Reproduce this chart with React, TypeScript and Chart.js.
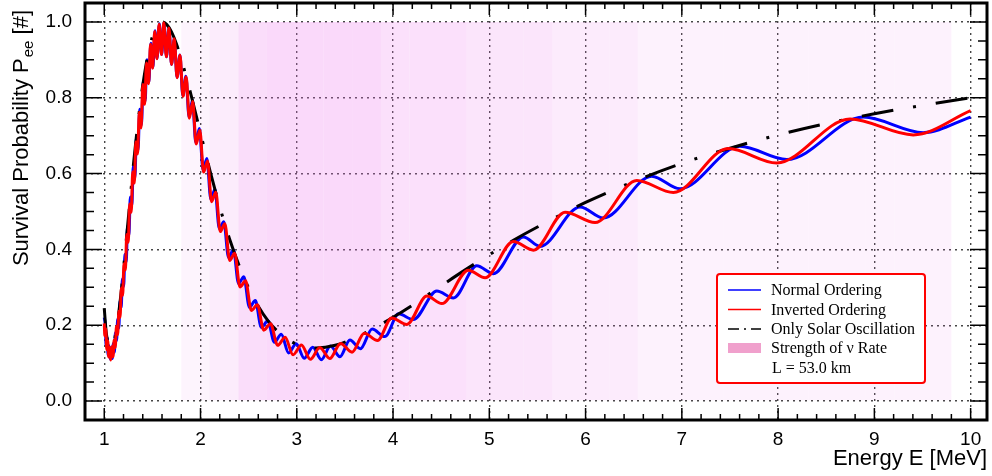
import React, { useEffect, useRef } from "react";
import { Chart, registerables } from "chart.js";

Chart.register(...registerables);

// ---------------- data ----------------
const energyTicks = [1, 2, 3, 4, 5, 6, 7, 8, 9, 10];
const probTicks = [0.0, 0.2, 0.4, 0.6, 0.8, 1.0];

// Only solar oscillation (black dash-dot)
const solarE = [1.0, 1.02, 1.04, 1.06, 1.07, 1.08, 1.1, 1.125, 1.15, 1.175, 1.2, 1.225, 1.25, 1.275, 1.3, 1.325, 1.35, 1.375, 1.4, 1.45, 1.5, 1.55, 1.6, 1.65, 1.7, 1.75, 1.8, 1.85, 1.9, 1.95, 2.0, 2.1, 2.2, 2.3, 2.4, 2.5, 2.6, 2.7, 2.8, 2.9, 3.0, 3.2, 3.4, 3.6, 3.8, 4.0, 4.25, 4.5, 4.75, 5.0, 5.25, 5.5, 6.0, 6.5, 7.0, 7.5, 8.0, 8.5, 9.0, 9.5, 10.0];
const solarP = [0.245, 0.182, 0.155, 0.141, 0.14, 0.142, 0.156, 0.187, 0.232, 0.286, 0.349, 0.415, 0.482, 0.549, 0.616, 0.677, 0.734, 0.787, 0.833, 0.909, 0.961, 0.99, 1.0, 0.993, 0.973, 0.942, 0.902, 0.857, 0.809, 0.758, 0.707, 0.606, 0.512, 0.429, 0.358, 0.298, 0.25, 0.212, 0.184, 0.164, 0.15, 0.14, 0.147, 0.166, 0.192, 0.221, 0.261, 0.304, 0.346, 0.386, 0.424, 0.459, 0.524, 0.579, 0.627, 0.667, 0.702, 0.732, 0.758, 0.78, 0.8];

// Normal ordering (blue)
const normalE = [1.0, 1.01, 1.02, 1.03, 1.0406, 1.051, 1.062, 1.073, 1.0834, 1.094, 1.105, 1.1163, 1.128, 1.1394, 1.151, 1.1635, 1.176, 1.1885, 1.2015, 1.2147, 1.228, 1.242, 1.256, 1.271, 1.2865, 1.302, 1.318, 1.334, 1.351, 1.368, 1.386, 1.405, 1.424, 1.443, 1.463, 1.484, 1.505, 1.527, 1.549, 1.5725, 1.596, 1.621, 1.646, 1.672, 1.699, 1.727, 1.756, 1.786, 1.816, 1.848, 1.881, 1.916, 1.951, 1.988, 2.027, 2.066, 2.107, 2.15, 2.195, 2.242, 2.291, 2.342, 2.395, 2.45, 2.508, 2.569, 2.632, 2.699, 2.767, 2.839, 2.915, 2.994, 3.077, 3.166, 3.255, 3.35, 3.448, 3.552, 3.661, 3.783, 3.914, 4.058, 4.21, 4.455, 4.627, 4.87, 5.043, 5.354, 5.527, 5.943, 6.185, 6.687, 6.981, 7.604, 8.09, 8.885, 9.508, 10.0];
const normalP = [0.22, 0.203, 0.145, 0.167, 0.121, 0.146, 0.11, 0.141, 0.112, 0.152, 0.129, 0.18, 0.16, 0.216, 0.192, 0.264, 0.247, 0.322, 0.302, 0.387, 0.367, 0.461, 0.437, 0.538, 0.515, 0.621, 0.588, 0.696, 0.662, 0.77, 0.728, 0.843, 0.79, 0.9, 0.841, 0.944, 0.88, 0.977, 0.904, 0.995, 0.914, 0.998, 0.908, 0.984, 0.888, 0.956, 0.854, 0.913, 0.806, 0.857, 0.749, 0.794, 0.682, 0.719, 0.609, 0.64, 0.532, 0.559, 0.455, 0.473, 0.379, 0.399, 0.31, 0.328, 0.247, 0.265, 0.194, 0.212, 0.155, 0.176, 0.127, 0.151, 0.113, 0.142, 0.109, 0.145, 0.117, 0.161, 0.138, 0.19, 0.17, 0.23, 0.215, 0.29, 0.272, 0.357, 0.336, 0.433, 0.408, 0.512, 0.483, 0.593, 0.56, 0.672, 0.637, 0.749, 0.708, 0.749];

// Inverted ordering (red)
const invertedE = [1.0, 1.006, 1.016, 1.026, 1.036, 1.047, 1.058, 1.068, 1.08, 1.091, 1.103, 1.114, 1.127, 1.139, 1.152, 1.164, 1.178, 1.191, 1.205, 1.219, 1.234, 1.249, 1.264, 1.28, 1.296, 1.312, 1.329, 1.346, 1.364, 1.382, 1.401, 1.42, 1.439, 1.46, 1.481, 1.502, 1.524, 1.547, 1.57, 1.594, 1.619, 1.645, 1.672, 1.699, 1.727, 1.757, 1.787, 1.818, 1.851, 1.884, 1.919, 1.955, 1.993, 2.032, 2.073, 2.115, 2.159, 2.205, 2.253, 2.303, 2.355, 2.41, 2.468, 2.528, 2.591, 2.657, 2.727, 2.801, 2.879, 2.961, 3.048, 3.141, 3.239, 3.343, 3.455, 3.574, 3.701, 3.839, 3.986, 4.143, 4.351, 4.507, 4.783, 4.956, 5.25, 5.458, 5.787, 6.098, 6.532, 6.912, 7.483, 7.985, 8.747, 9.404, 10.0];
const invertedP = [0.205, 0.172, 0.191, 0.136, 0.159, 0.116, 0.141, 0.108, 0.144, 0.117, 0.161, 0.141, 0.197, 0.175, 0.237, 0.221, 0.298, 0.279, 0.362, 0.346, 0.439, 0.419, 0.52, 0.498, 0.605, 0.575, 0.684, 0.652, 0.762, 0.72, 0.835, 0.783, 0.892, 0.837, 0.941, 0.878, 0.975, 0.903, 0.994, 0.914, 0.998, 0.908, 0.984, 0.888, 0.956, 0.853, 0.912, 0.804, 0.855, 0.746, 0.79, 0.678, 0.714, 0.604, 0.633, 0.526, 0.551, 0.447, 0.468, 0.371, 0.39, 0.301, 0.317, 0.239, 0.254, 0.187, 0.204, 0.147, 0.168, 0.122, 0.148, 0.11, 0.141, 0.112, 0.152, 0.129, 0.179, 0.16, 0.219, 0.202, 0.277, 0.257, 0.345, 0.325, 0.421, 0.398, 0.498, 0.471, 0.582, 0.55, 0.666, 0.628, 0.744, 0.702, 0.766];

// Strength of neutrino rate (background bands), bins of the energy axis
const rateBinCenters = [1.948, 2.244, 2.541, 2.837, 3.133, 3.43, 3.726, 4.022, 4.319, 4.615, 4.911, 5.207, 5.504, 5.8, 6.096, 6.393, 6.689, 6.985, 7.281, 7.578, 7.874, 8.17, 8.467, 8.763, 9.059, 9.356, 9.652];
const rateStrength = [0.1, 0.35, 0.85, 1.0, 1.0, 1.0, 1.0, 0.75, 0.75, 0.75, 0.6, 0.6, 0.6, 0.4, 0.4, 0.4, 0.15, 0.15, 0.15, 0.15, 0.15, 0.15, 0.15, 0.15, 0.15, 0.15, 0.15];

const legendLabels = ["Normal Ordering", "Inverted Ordering", "Only Solar Oscillation", "Strength of \u03BD Rate", "L = 53.0 km"];
const xTitle = "Energy E [MeV]";
const yTitleMain = "Survival Probability P";
const yTitleSub = "ee";
const yTitleTail = " [#]";

const SANS = "'Liberation Sans', Arial, Helvetica, sans-serif";
const SERIF = "'Liberation Serif', 'Times New Roman', serif";

const zeroPadding = (s: any) => {
  s.paddingTop = 0;
  s.paddingBottom = 0;
  s.paddingLeft = 0;
  s.paddingRight = 0;
};

const decorPlugin = {
  id: "decor",
  afterDraw(chart: any) {
    const ctx = chart.ctx as CanvasRenderingContext2D;
    const area = chart.chartArea;
    const xs = chart.scales.x;
    const ys = chart.scales.y;
    ctx.save();
    // inner ticks
    ctx.strokeStyle = "#000";
    ctx.lineWidth = 1.5;
    ctx.beginPath();
    for (let k = 0; k <= 47; k++) {
      const v = 0.8 + k * 0.2;
      if (v > 10.18) break;
      const px = xs.getPixelForValue(v);
      const major = Math.abs(v - Math.round(v)) < 1e-6;
      const len = major ? 12 : 6;
      ctx.moveTo(px, area.bottom);
      ctx.lineTo(px, area.bottom - len);
      ctx.moveTo(px, area.top);
      ctx.lineTo(px, area.top + len);
    }
    for (let k = -1; k <= 21; k++) {
      const v = k * 0.05;
      const py = ys.getPixelForValue(v);
      const major = k % 4 === 0;
      const len = major ? 17 : 9;
      ctx.moveTo(area.left, py);
      ctx.lineTo(area.left + len, py);
      ctx.moveTo(area.right, py);
      ctx.lineTo(area.right - len, py);
    }
    ctx.stroke();
    // frame
    ctx.lineWidth = 3;
    ctx.strokeRect(area.left, area.top, area.right - area.left, area.bottom - area.top);

    // y title with subscript
    ctx.fillStyle = "#000";
    ctx.textBaseline = "alphabetic";
    ctx.textAlign = "left";
    const mainFont = "22px " + SANS;
    const subFont = "15px " + SANS;
    ctx.font = mainFont;
    const w1 = ctx.measureText(yTitleMain).width;
    const w3 = ctx.measureText(yTitleTail).width;
    ctx.font = subFont;
    const w2 = ctx.measureText(yTitleSub).width;
    const total = w1 + w2 + 1 + w3;
    ctx.translate(28, area.top + 7 + total);
    ctx.rotate(-Math.PI / 2);
    ctx.font = mainFont;
    ctx.fillText(yTitleMain, 0, 0);
    ctx.font = subFont;
    ctx.fillText(yTitleSub, w1 + 1, 5);
    ctx.font = mainFont;
    ctx.fillText(yTitleTail, w1 + w2 + 1, 0);
    ctx.restore();

    // legend
    ctx.save();
    const lx = 717, ly = 274, lw = 208, lh = 109;
    ctx.fillStyle = "#fff";
    ctx.strokeStyle = "#ff0000";
    ctx.lineWidth = 2;
    ctx.beginPath();
    (ctx as any).roundRect(lx, ly, lw, lh, 3);
    ctx.fill();
    ctx.stroke();
    const rows = [290, 309.5, 329, 348, 368];
    const sx0 = 728, sx1 = 761, tx = 771;
    ctx.lineWidth = 1.3;
    ctx.strokeStyle = "#0000ff";
    ctx.beginPath(); ctx.moveTo(sx0, rows[0]); ctx.lineTo(sx1, rows[0]); ctx.stroke();
    ctx.strokeStyle = "#ff0000";
    ctx.beginPath(); ctx.moveTo(sx0, rows[1]); ctx.lineTo(sx1, rows[1]); ctx.stroke();
    ctx.strokeStyle = "#000";
    ctx.setLineDash([11, 5, 2, 5]);
    ctx.beginPath(); ctx.moveTo(sx0, rows[2]); ctx.lineTo(sx1, rows[2]); ctx.stroke();
    ctx.setLineDash([]);
    ctx.fillStyle = "#f0a0cc";
    ctx.fillRect(sx0, rows[3] - 5, sx1 - sx0, 10);
    ctx.fillStyle = "#000";
    ctx.font = "16px " + SERIF;
    ctx.textBaseline = "middle";
    ctx.textAlign = "left";
    for (let i = 0; i < legendLabels.length; i++) {
      ctx.fillText(legendLabels[i], i === 4 ? tx + 1 : tx, rows[i] + 1);
    }
    ctx.restore();
  },
};

export default function App() {
  const ref = useRef<HTMLCanvasElement | null>(null);
  useEffect(() => {
    if (!ref.current) return;
    Chart.defaults.font.family = SANS;
    const toXY = (xs: number[], ys: number[]) => xs.map((x, i) => ({ x, y: ys[i] }));
    const chart = new Chart(ref.current, {
      type: "line",
      data: {
        datasets: [
          {
            type: "line",
            label: legendLabels[1],
            data: toXY(invertedE, invertedP),
            borderColor: "#ff0000",
            borderWidth: 3,
            pointRadius: 0,
            cubicInterpolationMode: "monotone",
            order: 0,
          } as any,
          {
            type: "line",
            label: legendLabels[2],
            data: toXY(solarE, solarP),
            borderColor: "#000000",
            borderWidth: 3,
            borderDash: [32, 20, 3, 20],
            pointRadius: 0,
            cubicInterpolationMode: "monotone",
            order: 1,
          } as any,
          {
            type: "line",
            label: legendLabels[0],
            data: toXY(normalE, normalP),
            borderColor: "#0000ff",
            borderWidth: 3,
            pointRadius: 0,
            cubicInterpolationMode: "monotone",
            order: 2,
          } as any,
          {
            type: "bar",
            label: legendLabels[3],
            data: rateBinCenters.map((c) => ({ x: c, y: [0, 1] })),
            backgroundColor: rateStrength.map((s) => `rgba(235,110,235,${(0.06 + 0.2 * s).toFixed(3)})`),
            borderWidth: 0,
            inflateAmount: 0,
            barPercentage: 1,
            categoryPercentage: 1,
            grouped: false,
            order: 3,
          } as any,
        ],
      },
      options: {
        animation: false,
        responsive: true,
        maintainAspectRatio: false,
        events: [],
        layout: { autoPadding: false, padding: { left: 0, right: 5, top: 3, bottom: 0 } },
        plugins: { legend: { display: false }, tooltip: { enabled: false } },
        scales: {
          x: {
            type: "linear",
            min: 0.8,
            max: 10.17,
            offset: false,
            afterBuildTicks: (s: any) => {
              s.ticks = energyTicks.map((v) => ({ value: v }));
            },
            afterFit: (s: any) => {
              s.height = 56;
              zeroPadding(s);
            },
            ticks: {
              autoSkip: false,
              maxRotation: 0,
              padding: 8,
              color: "#000",
              font: { size: 19, family: SANS },
              callback: (v: any) => String(v),
            },
            grid: { drawTicks: false, color: "rgba(50,50,50,0.9)", lineWidth: 1.4, offset: false },
            border: { display: false, dash: [2, 4] },
            title: {
              display: true,
              text: xTitle,
              align: "end",
              color: "#000",
              font: { size: 22, family: SANS },
              padding: { top: 0, bottom: 4 },
            },
          } as any,
          y: {
            type: "linear",
            min: -0.05,
            max: 1.05,
            afterBuildTicks: (s: any) => {
              s.ticks = probTicks.map((v) => ({ value: v }));
            },
            afterFit: (s: any) => {
              s.width = 85;
              zeroPadding(s);
            },
            ticks: {
              padding: 13,
              color: "#000",
              font: { size: 19, family: SANS },
              callback: (v: any) => Number(v).toFixed(1),
            },
            grid: { drawTicks: false, color: "rgba(50,50,50,0.9)", lineWidth: 1.4 },
            border: { display: false, dash: [2, 4] },
          } as any,
        },
      },
      plugins: [decorPlugin],
    });
    return () => chart.destroy();
  }, []);
  return (
    <div style={{ position: "fixed", left: 0, top: 0, width: 992, height: 476, background: "#fff" }}>
      <canvas ref={ref} />
    </div>
  );
}
